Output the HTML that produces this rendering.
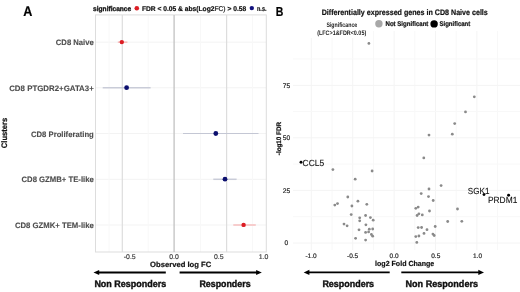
<!DOCTYPE html>
<html><head><meta charset="utf-8"><style>
html,body{margin:0;padding:0;background:#fff;width:520px;height:292px;overflow:hidden}
svg{display:block;filter:blur(0.3px)}
text{font-family:"Liberation Sans",sans-serif;text-rendering:geometricPrecision}
</style></head><body>
<svg width="520" height="292" viewBox="0 0 520 292">
<rect width="520" height="292" fill="#fff"/>
<line x1="95.5" y1="42.2" x2="266.3" y2="42.2" stroke="#f3f3f3" stroke-width="1"/>
<line x1="95.5" y1="87.8" x2="266.3" y2="87.8" stroke="#f3f3f3" stroke-width="1"/>
<line x1="95.5" y1="133.5" x2="266.3" y2="133.5" stroke="#f3f3f3" stroke-width="1"/>
<line x1="95.5" y1="179.3" x2="266.3" y2="179.3" stroke="#f3f3f3" stroke-width="1"/>
<line x1="95.5" y1="225" x2="266.3" y2="225" stroke="#f3f3f3" stroke-width="1"/>
<line x1="148.2" y1="15.5" x2="148.2" y2="252" stroke="#f8f8f8" stroke-width="1"/>
<line x1="200.4" y1="15.5" x2="200.4" y2="252" stroke="#f8f8f8" stroke-width="1"/>
<line x1="252.5" y1="15.5" x2="252.5" y2="252" stroke="#f8f8f8" stroke-width="1"/>
<line x1="109" y1="15.5" x2="109" y2="252" stroke="#f8f8f8" stroke-width="1"/>
<rect x="95.5" y="14.9" width="170.8" height="237.1" fill="none" stroke="#dddddd" stroke-width="1"/>
<line x1="122.3" y1="14.9" x2="122.3" y2="252" stroke="#dddddd" stroke-width="1.2"/>
<line x1="226.6" y1="14.9" x2="226.6" y2="252" stroke="#dddddd" stroke-width="1.2"/>
<line x1="174.1" y1="14.9" x2="174.1" y2="252" stroke="#c2c2c2" stroke-width="1.3"/>
<line x1="117.8" y1="42.2" x2="127.4" y2="42.2" stroke="#f7c2c2" stroke-width="1.6"/>
<line x1="102.7" y1="87.8" x2="150.6" y2="87.8" stroke="#c9ccd8" stroke-width="1.5"/>
<line x1="183" y1="133.5" x2="258.5" y2="133.5" stroke="#c4c7d4" stroke-width="1.2"/>
<line x1="213.3" y1="179.3" x2="236.6" y2="179.3" stroke="#c9ccd8" stroke-width="1.5"/>
<line x1="233.3" y1="225" x2="255.8" y2="225" stroke="#f7c2c2" stroke-width="1.6"/>
<circle cx="121.8" cy="42.1" r="2.2" fill="#dc1d24"/>
<circle cx="126.6" cy="87.7" r="2.4" fill="#0c0f6e"/>
<circle cx="215.8" cy="133.5" r="2.4" fill="#0c0f6e"/>
<circle cx="225" cy="179.2" r="2.4" fill="#0c0f6e"/>
<circle cx="243.6" cy="224.9" r="2.2" fill="#dc1d24"/>
<text x="55.8" y="44.9" font-size="7.9" font-weight="bold" fill="#4d4d4d" stroke="#4d4d4d" stroke-width="0.12" textLength="38.00" lengthAdjust="spacingAndGlyphs">CD8 Naive</text>
<text x="9.2" y="90.5" font-size="7.9" font-weight="bold" fill="#4d4d4d" stroke="#4d4d4d" stroke-width="0.12" textLength="84.60" lengthAdjust="spacingAndGlyphs">CD8 PTGDR2+GATA3+</text>
<text x="31" y="136.5" font-size="7.9" font-weight="bold" fill="#4d4d4d" stroke="#4d4d4d" stroke-width="0.12" textLength="62.80" lengthAdjust="spacingAndGlyphs">CD8 Proliferating</text>
<text x="21.5" y="182.1" font-size="7.9" font-weight="bold" fill="#4d4d4d" stroke="#4d4d4d" stroke-width="0.12" textLength="72.30" lengthAdjust="spacingAndGlyphs">CD8 GZMB+ TE-like</text>
<text x="14.9" y="227.6" font-size="7.9" font-weight="bold" fill="#4d4d4d" stroke="#4d4d4d" stroke-width="0.12" textLength="78.90" lengthAdjust="spacingAndGlyphs">CD8 GZMK+ TEM-like</text>
<text transform="translate(7.2,133.0) rotate(-90)" font-size="8" font-weight="bold" fill="#111" stroke="#111" stroke-width="0.2" text-anchor="middle" textLength="30.3" lengthAdjust="spacingAndGlyphs">Clusters</text>
<text x="23.3" y="16" font-size="14.2" font-weight="bold" fill="#000" stroke="#000" stroke-width="0.2" textLength="9.10" lengthAdjust="spacingAndGlyphs">A</text>
<text x="93.1" y="10.7" font-size="6.9" font-weight="bold" fill="#111" stroke="#111" stroke-width="0.3" textLength="38.10" lengthAdjust="spacingAndGlyphs">significance</text>
<circle cx="136.8" cy="8.2" r="2.3" fill="#dc1d24"/>
<text x="141.9" y="10.7" font-size="6.9" font-weight="bold" fill="#111" stroke="#111" stroke-width="0.2" textLength="104.30" lengthAdjust="spacingAndGlyphs">FDR &lt; 0.05 &amp; abs(Log2<tspan font-weight="normal">FC)</tspan> &gt; 0.58</text>
<circle cx="251.8" cy="8.1" r="2.2" fill="#12127e"/>
<text x="257" y="10.6" font-size="6.9" font-weight="bold" fill="#111" stroke="#111" stroke-width="0.2" textLength="9.50" lengthAdjust="spacingAndGlyphs">n.s.</text>
<text x="129.7" y="258.5" font-size="6.9" font-weight="normal" fill="#444" stroke="#444" stroke-width="0.2" text-anchor="middle">-0.5</text>
<text x="174" y="258.5" font-size="6.9" font-weight="normal" fill="#444" stroke="#444" stroke-width="0.2" text-anchor="middle">0.0</text>
<text x="218.8" y="258.5" font-size="6.9" font-weight="normal" fill="#444" stroke="#444" stroke-width="0.2" text-anchor="middle">0.5</text>
<text x="263.6" y="258.5" font-size="6.9" font-weight="normal" fill="#444" stroke="#444" stroke-width="0.2" text-anchor="middle">1.0</text>
<text x="150.1" y="266.5" font-size="7.6" font-weight="bold" fill="#111" stroke="#111" stroke-width="0.2" textLength="61.10" lengthAdjust="spacingAndGlyphs">Observed log FC</text>
<line x1="97" y1="272.5" x2="165.8" y2="272.5" stroke="#000" stroke-width="1.8"/>
<path d="M93.5 272.5 L99.2 269.9 L99.2 275.1 Z" fill="#000"/>
<line x1="179.6" y1="272.5" x2="258.5" y2="272.5" stroke="#000" stroke-width="1.8"/>
<path d="M261.8 272.5 L256.1 269.9 L256.1 275.1 Z" fill="#000"/>
<text x="94.4" y="287.1" font-size="9.6" font-weight="bold" fill="#111" stroke="#111" stroke-width="0.4" textLength="71.80" lengthAdjust="spacingAndGlyphs">Non Responders</text>
<text x="199.4" y="287.1" font-size="9.6" font-weight="bold" fill="#111" stroke="#111" stroke-width="0.4" textLength="51.20" lengthAdjust="spacingAndGlyphs">Responders</text>
<text x="275.8" y="16.2" font-size="13" font-weight="bold" fill="#000" stroke="#000" stroke-width="0.2" textLength="7.60" lengthAdjust="spacingAndGlyphs">B</text>
<line x1="332" y1="31" x2="332" y2="250" stroke="#f8f8f8" stroke-width="1"/>
<line x1="373.4" y1="31" x2="373.4" y2="250" stroke="#f8f8f8" stroke-width="1"/>
<line x1="414.8" y1="31" x2="414.8" y2="250" stroke="#f8f8f8" stroke-width="1"/>
<line x1="456.2" y1="31" x2="456.2" y2="250" stroke="#f8f8f8" stroke-width="1"/>
<line x1="497.6" y1="31" x2="497.6" y2="250" stroke="#f8f8f8" stroke-width="1"/>
<line x1="311.3" y1="31" x2="311.3" y2="250" stroke="#f4f4f4" stroke-width="1"/>
<line x1="352.7" y1="31" x2="352.7" y2="250" stroke="#f4f4f4" stroke-width="1"/>
<line x1="394.1" y1="31" x2="394.1" y2="250" stroke="#f4f4f4" stroke-width="1"/>
<line x1="435.5" y1="31" x2="435.5" y2="250" stroke="#f4f4f4" stroke-width="1"/>
<line x1="476.9" y1="31" x2="476.9" y2="250" stroke="#f4f4f4" stroke-width="1"/>
<line x1="293" y1="216.7" x2="520" y2="216.7" stroke="#f8f8f8" stroke-width="1"/>
<line x1="293" y1="164.1" x2="520" y2="164.1" stroke="#f8f8f8" stroke-width="1"/>
<line x1="293" y1="111.5" x2="520" y2="111.5" stroke="#f8f8f8" stroke-width="1"/>
<line x1="293" y1="58.9" x2="520" y2="58.9" stroke="#f8f8f8" stroke-width="1"/>
<line x1="293" y1="243" x2="520" y2="243" stroke="#f4f4f4" stroke-width="1"/>
<line x1="293" y1="190.4" x2="520" y2="190.4" stroke="#f4f4f4" stroke-width="1"/>
<line x1="293" y1="137.8" x2="520" y2="137.8" stroke="#f4f4f4" stroke-width="1"/>
<line x1="293" y1="85.4" x2="520" y2="85.4" stroke="#f4f4f4" stroke-width="1"/>
<rect x="309" y="17" width="63" height="21" fill="#fff"/>
<text x="321.7" y="14.8" font-size="8.0" font-weight="bold" fill="#111" stroke="#111" stroke-width="0.2" textLength="166.10" lengthAdjust="spacingAndGlyphs">Differentially expressed genes in CD8 Naive cells</text>
<text x="326.4" y="26.6" font-size="6.6" font-weight="bold" fill="#222" textLength="30.80" lengthAdjust="spacingAndGlyphs">Significance</text>
<text x="317.2" y="34.7" font-size="6.5" font-weight="bold" fill="#222" textLength="49.00" lengthAdjust="spacingAndGlyphs">(LFC&gt;1&amp;FDR&lt;0.05)</text>
<circle cx="378.9" cy="23.8" r="3.7" fill="#a8a8a8"/>
<text x="385.5" y="26.1" font-size="6.8" font-weight="bold" fill="#111" stroke="#111" stroke-width="0.2" textLength="42.90" lengthAdjust="spacingAndGlyphs">Not Significant</text>
<circle cx="434.1" cy="23.9" r="3.7" fill="#000"/>
<text x="439.5" y="26.1" font-size="6.8" font-weight="bold" fill="#111" stroke="#111" stroke-width="0.2" textLength="30.80" lengthAdjust="spacingAndGlyphs">Significant</text>
<text x="286.4" y="87.7" font-size="6.7" font-weight="normal" fill="#2a2a2a" stroke="#2a2a2a" stroke-width="0.2" text-anchor="middle">75</text>
<text x="286.4" y="139.9" font-size="6.7" font-weight="normal" fill="#2a2a2a" stroke="#2a2a2a" stroke-width="0.2" text-anchor="middle">50</text>
<text x="286.4" y="192.9" font-size="6.7" font-weight="normal" fill="#2a2a2a" stroke="#2a2a2a" stroke-width="0.2" text-anchor="middle">25</text>
<text x="286.4" y="245.3" font-size="6.7" font-weight="normal" fill="#2a2a2a" stroke="#2a2a2a" stroke-width="0.2" text-anchor="middle">0</text>
<text transform="translate(281.3,138.6) rotate(-90)" font-size="6.6" font-weight="bold" fill="#111" stroke="#111" stroke-width="0.25" text-anchor="middle" textLength="33.2" lengthAdjust="spacingAndGlyphs">-log10 FDR</text>
<text x="311.0" y="257.9" font-size="6.5" font-weight="normal" fill="#2a2a2a" stroke="#2a2a2a" stroke-width="0.2" text-anchor="middle">-1.0</text>
<text x="352.6" y="257.9" font-size="6.5" font-weight="normal" fill="#2a2a2a" stroke="#2a2a2a" stroke-width="0.2" text-anchor="middle">-0.5</text>
<text x="394.1" y="257.9" font-size="6.5" font-weight="normal" fill="#2a2a2a" stroke="#2a2a2a" stroke-width="0.2" text-anchor="middle">0.0</text>
<text x="435.75" y="257.9" font-size="6.5" font-weight="normal" fill="#2a2a2a" stroke="#2a2a2a" stroke-width="0.2" text-anchor="middle">0.5</text>
<text x="477.5" y="257.9" font-size="6.5" font-weight="normal" fill="#2a2a2a" stroke="#2a2a2a" stroke-width="0.2" text-anchor="middle">1.0</text>
<text x="375.1" y="265.5" font-size="7.4" font-weight="bold" fill="#111" stroke="#111" stroke-width="0.2" textLength="59.20" lengthAdjust="spacingAndGlyphs">log2 Fold Change</text>
<circle cx="368.9" cy="43.4" r="1.4" fill="#8a8a8a"/>
<circle cx="474.3" cy="96.8" r="1.4" fill="#8a8a8a"/>
<circle cx="465.5" cy="111.9" r="1.4" fill="#8a8a8a"/>
<circle cx="454.7" cy="123.6" r="1.4" fill="#8a8a8a"/>
<circle cx="452.3" cy="134.2" r="1.4" fill="#8a8a8a"/>
<circle cx="429" cy="135.1" r="1.4" fill="#8a8a8a"/>
<circle cx="423.8" cy="157.9" r="1.4" fill="#8a8a8a"/>
<circle cx="332.9" cy="169.6" r="1.4" fill="#8a8a8a"/>
<circle cx="372.1" cy="171" r="1.4" fill="#8a8a8a"/>
<circle cx="355.2" cy="179.2" r="1.4" fill="#8a8a8a"/>
<circle cx="441.1" cy="185.6" r="1.4" fill="#8a8a8a"/>
<circle cx="429" cy="189" r="1.4" fill="#8a8a8a"/>
<circle cx="421.2" cy="193.6" r="1.4" fill="#8a8a8a"/>
<circle cx="428.5" cy="196.6" r="1.4" fill="#8a8a8a"/>
<circle cx="433.2" cy="200.5" r="1.4" fill="#8a8a8a"/>
<circle cx="347.8" cy="197" r="1.4" fill="#8a8a8a"/>
<circle cx="357.9" cy="201.2" r="1.4" fill="#8a8a8a"/>
<circle cx="337.5" cy="203.6" r="1.4" fill="#8a8a8a"/>
<circle cx="334.8" cy="205.1" r="1.4" fill="#8a8a8a"/>
<circle cx="351.9" cy="206" r="1.4" fill="#8a8a8a"/>
<circle cx="366.8" cy="204.3" r="1.4" fill="#8a8a8a"/>
<circle cx="351.2" cy="214.6" r="1.4" fill="#8a8a8a"/>
<circle cx="365.6" cy="215.5" r="1.4" fill="#8a8a8a"/>
<circle cx="359.7" cy="217.8" r="1.4" fill="#8a8a8a"/>
<circle cx="370.4" cy="217.6" r="1.4" fill="#8a8a8a"/>
<circle cx="359.7" cy="220.8" r="1.4" fill="#8a8a8a"/>
<circle cx="373.2" cy="220.2" r="1.4" fill="#8a8a8a"/>
<circle cx="344" cy="224.1" r="1.4" fill="#8a8a8a"/>
<circle cx="347.1" cy="225.8" r="1.4" fill="#8a8a8a"/>
<circle cx="365.9" cy="224.8" r="1.4" fill="#8a8a8a"/>
<circle cx="359" cy="229.8" r="1.4" fill="#8a8a8a"/>
<circle cx="369.3" cy="229.2" r="1.4" fill="#8a8a8a"/>
<circle cx="372.7" cy="229" r="1.4" fill="#8a8a8a"/>
<circle cx="365.6" cy="232.4" r="1.4" fill="#8a8a8a"/>
<circle cx="368.6" cy="231.9" r="1.4" fill="#8a8a8a"/>
<circle cx="371.4" cy="234.5" r="1.4" fill="#8a8a8a"/>
<circle cx="372.7" cy="236.2" r="1.4" fill="#8a8a8a"/>
<circle cx="355.6" cy="238.3" r="1.4" fill="#8a8a8a"/>
<circle cx="365.6" cy="240.1" r="1.4" fill="#8a8a8a"/>
<circle cx="415.8" cy="208.3" r="1.4" fill="#8a8a8a"/>
<circle cx="418.2" cy="207.1" r="1.4" fill="#8a8a8a"/>
<circle cx="429.5" cy="211" r="1.4" fill="#8a8a8a"/>
<circle cx="457.5" cy="209" r="1.4" fill="#8a8a8a"/>
<circle cx="417.1" cy="215.5" r="1.4" fill="#8a8a8a"/>
<circle cx="418.9" cy="213.8" r="1.4" fill="#8a8a8a"/>
<circle cx="422.3" cy="214.9" r="1.4" fill="#8a8a8a"/>
<circle cx="447.7" cy="221.5" r="1.4" fill="#8a8a8a"/>
<circle cx="461.8" cy="221.3" r="1.4" fill="#8a8a8a"/>
<circle cx="418.2" cy="227.6" r="1.4" fill="#8a8a8a"/>
<circle cx="421.6" cy="227.5" r="1.4" fill="#8a8a8a"/>
<circle cx="427" cy="229.7" r="1.4" fill="#8a8a8a"/>
<circle cx="435.2" cy="226.5" r="1.4" fill="#8a8a8a"/>
<circle cx="424" cy="233.4" r="1.4" fill="#8a8a8a"/>
<circle cx="432.9" cy="234.1" r="1.4" fill="#8a8a8a"/>
<circle cx="434.2" cy="235.5" r="1.4" fill="#8a8a8a"/>
<circle cx="415.8" cy="236.6" r="1.4" fill="#8a8a8a"/>
<circle cx="418.9" cy="236" r="1.4" fill="#8a8a8a"/>
<circle cx="416.8" cy="242.4" r="1.4" fill="#8a8a8a"/>
<circle cx="301" cy="162.2" r="1.45" fill="#000"/>
<circle cx="484" cy="194.6" r="1.45" fill="#000"/>
<circle cx="508.6" cy="195.2" r="1.45" fill="#000"/>
<text x="302.6" y="165.5" font-size="8.9" font-weight="normal" fill="#111" stroke="#111" stroke-width="0.1" textLength="21.60" lengthAdjust="spacingAndGlyphs">CCL5</text>
<text x="467.8" y="193.5" font-size="8.9" font-weight="normal" fill="#111" stroke="#111" stroke-width="0.1" textLength="21.60" lengthAdjust="spacingAndGlyphs">SGK1</text>
<text x="488" y="203.4" font-size="8.9" font-weight="normal" fill="#111" stroke="#111" stroke-width="0.1" textLength="29.30" lengthAdjust="spacingAndGlyphs">PRDM1</text>
<line x1="307" y1="272.4" x2="389.7" y2="272.4" stroke="#000" stroke-width="1.8"/>
<path d="M303.7 272.4 L309.4 269.8 L309.4 275 Z" fill="#000"/>
<line x1="401.3" y1="272.4" x2="480.7" y2="272.4" stroke="#000" stroke-width="1.8"/>
<path d="M484 272.4 L478.3 269.8 L478.3 275 Z" fill="#000"/>
<text x="322.4" y="287.1" font-size="9.6" font-weight="bold" fill="#111" stroke="#111" stroke-width="0.4" textLength="51.70" lengthAdjust="spacingAndGlyphs">Responders</text>
<text x="405.5" y="287.1" font-size="9.6" font-weight="bold" fill="#111" stroke="#111" stroke-width="0.4" textLength="72.50" lengthAdjust="spacingAndGlyphs">Non Responders</text>
</svg>
</body></html>
